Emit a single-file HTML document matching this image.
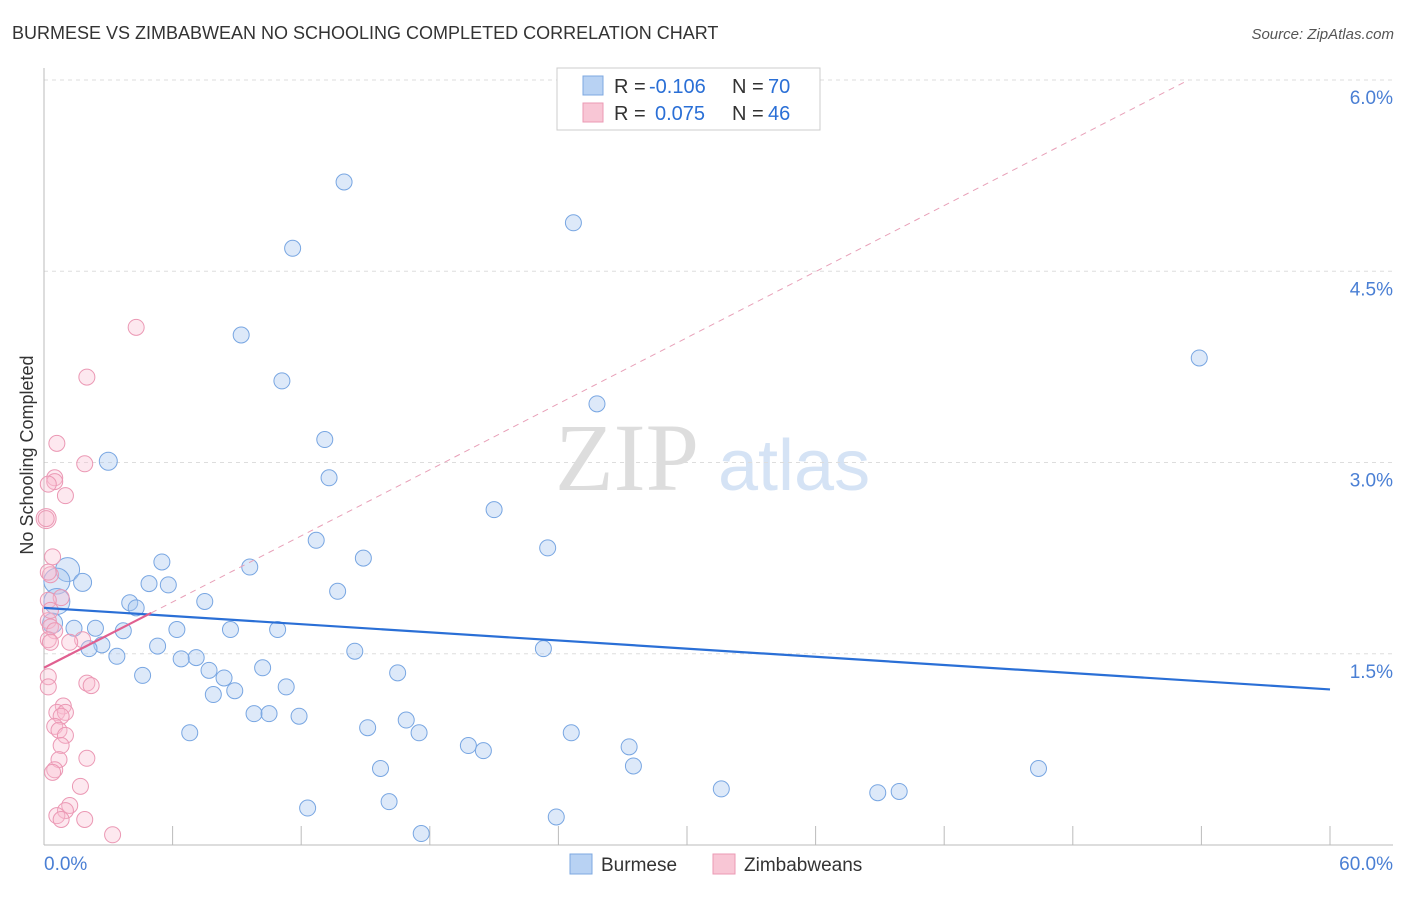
<!DOCTYPE html>
<html><head><meta charset="utf-8"><style>
body{margin:0;background:#fff;font-family:"Liberation Sans",sans-serif;}
</style></head><body>
<svg id="chart" width="1406" height="892" xmlns="http://www.w3.org/2000/svg" font-family="Liberation Sans, sans-serif">
<text x="12" y="39" font-size="18" fill="#333">BURMESE VS ZIMBABWEAN NO SCHOOLING COMPLETED CORRELATION CHART</text>
<text x="1394" y="39" font-size="15" fill="#555" font-style="italic" text-anchor="end">Source: ZipAtlas.com</text>
<text x="555" y="490" font-size="96" fill="#ddd" font-family="Liberation Serif, serif">ZIP</text>
<text x="718" y="490" font-size="72" fill="#d5e3f5">atlas</text>
<text transform="translate(33,455) rotate(-90)" font-size="18" fill="#333" text-anchor="middle">No Schooling Completed</text>
<g id="grid"></g><g id="axes"></g><g id="pts"></g><g id="trends"></g>
<g>
<rect x="557" y="68" width="263" height="62" fill="#fff" stroke="#ccc"/>
<rect x="583" y="76" width="20" height="19" fill="#b8d2f3" stroke="#7ea8e0"/>
<rect x="583" y="103" width="20" height="19" fill="#f8c6d5" stroke="#eb9ab4"/>
<text x="614" y="93" font-size="20" fill="#333">R =</text>
<text x="649" y="93" font-size="20" fill="#2a6fd6">-0.106</text>
<text x="732" y="93" font-size="20" fill="#333">N =</text>
<text x="768" y="93" font-size="20" fill="#2a6fd6">70</text>
<text x="614" y="120" font-size="20" fill="#333">R =</text>
<text x="655" y="120" font-size="20" fill="#2a6fd6">0.075</text>
<text x="732" y="120" font-size="20" fill="#333">N =</text>
<text x="768" y="120" font-size="20" fill="#2a6fd6">46</text>
</g>
<g>
<rect x="570" y="854" width="22" height="20" fill="#b8d2f3" stroke="#7ea8e0"/>
<text x="601" y="871" font-size="19" fill="#333">Burmese</text>
<rect x="713" y="854" width="22" height="20" fill="#f8c6d5" stroke="#eb9ab4"/>
<text x="744" y="871" font-size="19" fill="#333">Zimbabweans</text>
</g>
</svg>
<script>
const xTicks=[0,6,12,18,24,30,36,42,48,54,60];
const yTicks=[1.5,3.0,4.5,6.0];
const yTickLabels=["1.5%","3.0%","4.5%","6.0%"];
const burmeseX=[14.0,24.7,11.6,9.2,53.9,11.1,25.8,13.1,3.0,13.3,21.0,12.7,23.5,14.9,5.5,9.6,1.1,1.8,4.9,5.8,0.6,13.7,7.5,4.0,4.3,0.6,0.4,1.4,2.4,6.2,8.7,10.9,3.7,2.7,5.3,2.1,3.4,23.3,14.5,7.1,6.4,10.2,7.7,16.5,4.6,8.4,11.3,8.9,7.9,9.8,10.5,11.9,16.9,15.1,6.8,17.5,24.6,19.8,27.3,20.5,27.5,15.7,46.4,31.6,38.9,39.9,16.1,12.3,23.9,17.6];
const burmeseY=[5.2,4.88,4.68,4.0,3.82,3.64,3.46,3.18,3.01,2.88,2.63,2.39,2.33,2.25,2.22,2.18,2.16,2.06,2.05,2.04,2.07,1.99,1.91,1.9,1.86,1.91,1.74,1.7,1.7,1.69,1.69,1.69,1.68,1.57,1.56,1.54,1.48,1.54,1.52,1.47,1.46,1.39,1.37,1.35,1.33,1.31,1.24,1.21,1.18,1.03,1.03,1.01,0.98,0.92,0.88,0.88,0.88,0.78,0.77,0.74,0.62,0.6,0.6,0.44,0.41,0.42,0.34,0.29,0.22,0.09];
const burmeseR=[8,8,8,8,8,8,8,8,9,8,8,8,8,8,8,8,12,9,8,8,13,8,8,8,8,13,10,8,8,8,8,8,8,8,8,8,8,8,8,8,8,8,8,8,8,8,8,8,8,8,8,8,8,8,8,8,8,8,8,8,8,8,8,8,8,8,8,8,8,8];
const zimX=[4.3,2.0,0.6,1.9,0.5,0.5,0.2,1.0,0.1,0.4,0.3,0.2,0.2,0.3,0.5,0.2,0.3,1.8,1.2,0.2,0.2,2.0,2.2,0.9,0.6,1.0,0.8,0.5,0.7,1.0,0.8,2.0,0.7,0.5,0.4,1.7,1.2,1.0,0.6,0.8,1.9,3.2,0.1,0.8,0.2,0.3];
const zimY=[4.06,3.67,3.15,2.99,2.88,2.85,2.83,2.74,2.56,2.26,2.12,2.14,1.76,1.71,1.68,1.61,1.59,1.61,1.59,1.32,1.24,1.27,1.25,1.09,1.04,1.04,1.01,0.93,0.90,0.86,0.78,0.68,0.67,0.59,0.57,0.46,0.31,0.27,0.23,0.20,0.20,0.08,2.56,1.94,1.92,1.84];
const zimR=[8,8,8,8,8,8,8,8,10,8,8,8,8,8,8,8,8,8,8,8,8,8,8,8,8,8,8,8,8,8,8,8,8,8,8,8,8,8,8,8,8,8,8,8,8,8];
const blueTrend=[1.86,1.22];
const pinkTrend=[1.39,1.82,6.0];
const X=v=>44+v*(1330-44)/60;
const Y=v=>845-v*127.5;
const NS="http://www.w3.org/2000/svg";
function mk(tag,attrs,parent){const e=document.createElementNS(NS,tag);for(const k in attrs)e.setAttribute(k,attrs[k]);document.getElementById(parent).appendChild(e);return e;}
yTicks.forEach((t,i)=>{
 const l=mk('line',{x1:44,x2:1393,y1:Y(t),y2:Y(t),stroke:'#ddd','stroke-dasharray':'4,4'},'grid');
 
 
 const tx=mk('text',{x:1393,y:Y(t)+24,'font-size':19,fill:'#4a7fd4','text-anchor':'end'},'grid');
 tx.textContent=yTickLabels[i];
 
 
});
const xa=mk('line',{x1:44,x2:1393,y1:845,y2:845,stroke:'#bbb'},'axes');


const ya=mk('line',{x1:44,x2:44,y1:68,y2:845,stroke:'#bbb'},'axes');


xTicks.forEach(t=>{
 const l=mk('line',{x1:X(t),x2:X(t),y1:826,y2:845,stroke:'#bbb'},'axes');
 
 
});
[[0,'0.0%','start',44],[60,'60.0%','end',1393]].forEach(a=>{
 const tx=mk('text',{x:a[3],y:870,'font-size':19,fill:'#4a7fd4','text-anchor':a[2]},'axes');
 tx.textContent=a[1];
 
 
});
burmeseX.forEach((v,i)=>{
 const c=mk('circle',{cx:X(v),cy:Y(burmeseY[i]),r:burmeseR[i],fill:'rgba(170,200,240,0.4)',stroke:'#78a6e2','stroke-width':1},'pts');
 
 
});
zimX.forEach((v,i)=>{
 const c=mk('circle',{cx:X(v),cy:Y(zimY[i]),r:zimR[i],fill:'rgba(248,190,208,0.35)',stroke:'#eb98b4','stroke-width':1},'pts');
 
 
});
const bt=mk('line',{x1:X(0),y1:Y(blueTrend[0]),x2:X(60),y2:Y(blueTrend[1]),stroke:'#2a6fd6','stroke-width':2.2},'trends');


const pd=mk('line',{x1:X(5),y1:Y(pinkTrend[1]),x2:X(53.4),y2:Y(pinkTrend[2]),stroke:'#e8a0b8','stroke-width':1,'stroke-dasharray':'6,5'},'trends');


const pt=mk('line',{x1:X(0),y1:Y(pinkTrend[0]),x2:X(5),y2:Y(pinkTrend[1]),stroke:'#e06090','stroke-width':2.2},'trends');


</script>
</body></html>
